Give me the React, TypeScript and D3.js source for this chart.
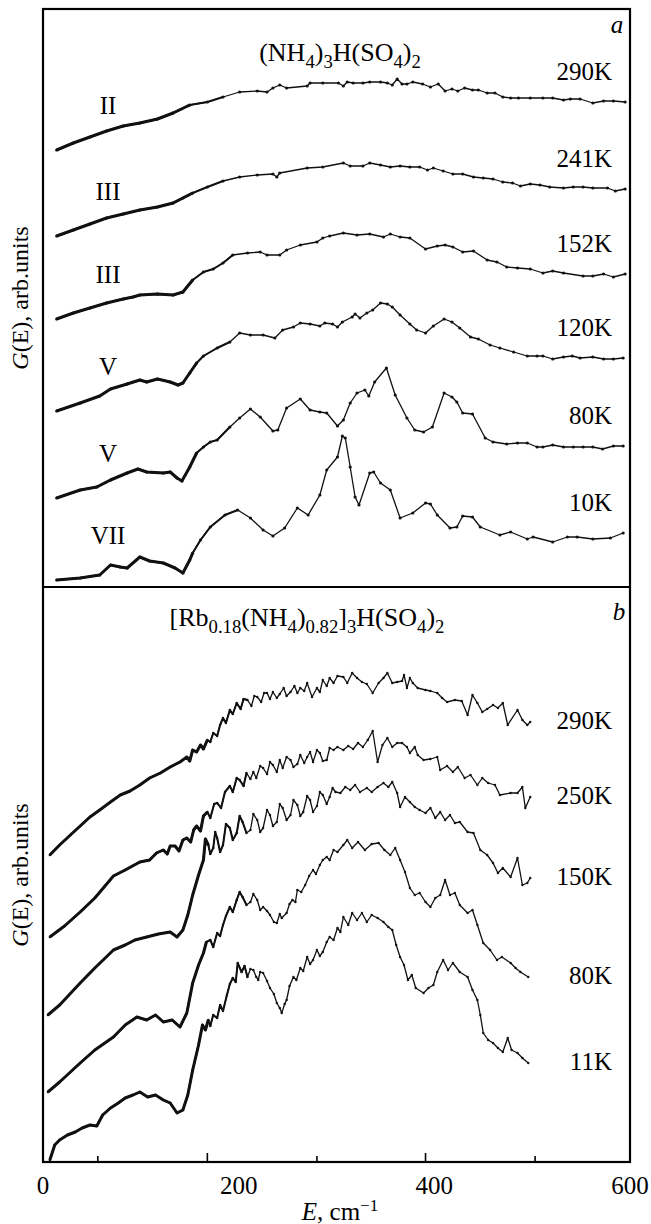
import * as d3 from "d3";

type Pt = [number, number];

// panel a: (NH4)3H(SO4)2, G(E) in arb. units (curves already offset)
const a290K: Pt[] = [
  [14, 43.7], [31, 44.4], [48, 45.0], [65, 45.6], [82, 46.1], [99, 46.4], [117, 46.8], [133, 47.4],
  [150, 48.2], [168, 48.5], [184, 49.0], [201, 49.5], [219, 49.6], [229, 49.5], [235, 49.9], [242, 50.2],
  [249, 49.9], [270, 50.1], [273, 50.4], [286, 50.4], [302, 50.4], [307, 50.1], [311, 50.5], [317, 50.4],
  [327, 50.4], [334, 50.5], [345, 50.5], [352, 50.4], [357, 50.2], [362, 50.8], [367, 50.3], [372, 50.3],
  [378, 50.5], [388, 50.3], [396, 50.0], [404, 50.3], [411, 49.6], [418, 49.8], [424, 49.6], [431, 49.9],
  [439, 49.7], [445, 49.7], [454, 49.4], [462, 49.4], [470, 49.0], [478, 48.9], [486, 48.9], [498, 48.9],
  [511, 48.9], [521, 48.9], [532, 48.7], [539, 48.8], [549, 48.8], [562, 48.4], [573, 48.6], [583, 48.6],
  [595, 48.5],
];
const a241K: Pt[] = [
  [14, 35.1], [31, 35.7], [48, 36.3], [65, 36.9], [82, 37.3], [99, 37.7], [117, 38.0], [133, 38.4],
  [143, 38.9], [153, 39.4], [168, 40.0], [184, 40.6], [201, 41.0], [219, 41.2], [235, 41.3], [239, 41.0],
  [242, 41.4], [270, 41.9], [286, 42.0], [307, 42.4], [314, 42.1], [327, 42.1], [334, 42.4], [345, 42.2],
  [355, 42.0], [365, 42.1], [375, 42.0], [385, 42.0], [393, 41.7], [399, 41.9], [409, 41.6], [419, 41.3],
  [429, 41.3], [440, 41.0], [450, 40.9], [460, 40.8], [470, 40.5], [480, 40.4], [488, 40.1], [498, 40.3],
  [508, 40.2], [518, 40.0], [532, 39.9], [542, 40.0], [552, 40.0], [562, 39.9], [577, 39.9], [585, 39.6],
  [595, 39.8],
];
const a152K: Pt[] = [
  [14, 26.8], [31, 27.4], [48, 27.9], [65, 28.4], [82, 28.8], [92, 29.0], [99, 29.2], [117, 29.3],
  [133, 29.2], [143, 29.5], [153, 30.7], [164, 31.5], [174, 31.8], [184, 32.4], [194, 33.2], [209, 33.4],
  [222, 33.5], [229, 33.2], [242, 33.2], [249, 33.7], [263, 34.2], [280, 34.5], [286, 34.9], [293, 35.1],
  [307, 35.4], [321, 35.2], [334, 35.3], [348, 35.0], [355, 35.3], [365, 35.0], [375, 34.9], [391, 33.8],
  [403, 34.1], [411, 34.2], [419, 34.0], [429, 33.5], [440, 33.6], [454, 32.7], [464, 32.5], [474, 32.0],
  [485, 31.9], [498, 31.8], [511, 31.4], [521, 31.6], [532, 31.4], [552, 31.1], [562, 31.1], [573, 31.3],
  [583, 31.0], [595, 31.3],
];
const a120K: Pt[] = [
  [14, 17.6], [38, 18.4], [58, 19.1], [69, 19.8], [86, 20.3], [99, 20.7], [106, 20.5], [117, 20.8],
  [130, 20.5], [138, 20.2], [143, 20.4], [150, 21.4], [157, 22.4], [164, 23.1], [178, 23.9], [191, 24.5],
  [201, 25.4], [212, 25.2], [225, 25.2], [237, 24.9], [245, 25.7], [256, 26.0], [263, 26.4], [273, 26.3],
  [283, 26.1], [288, 26.4], [296, 26.3], [301, 26.0], [306, 26.5], [316, 27.0], [319, 27.3], [324, 26.9],
  [331, 27.4], [337, 27.7], [345, 28.4], [352, 28.3], [357, 28.0], [365, 27.2], [375, 26.3], [382, 25.7],
  [391, 25.4], [399, 26.1], [410, 26.8], [418, 26.5], [426, 25.9], [437, 25.0], [445, 24.8], [457, 24.2],
  [467, 23.9], [481, 23.5], [495, 23.1], [505, 23.1], [511, 23.1], [521, 22.8], [532, 23.0], [541, 23.1],
  [549, 22.9], [562, 23.0], [573, 22.8], [583, 22.8], [593, 22.9],
];
const a80K: Pt[] = [
  [14, 8.9], [38, 9.7], [55, 10.0], [69, 10.7], [86, 11.4], [97, 11.8], [106, 11.5], [123, 11.4],
  [130, 11.5], [137, 10.9], [142, 10.6], [150, 12.0], [157, 13.4], [164, 14.0], [171, 14.5], [178, 14.7],
  [191, 16.0], [201, 16.9], [212, 17.8], [222, 17.0], [235, 15.6], [240, 15.7], [249, 17.9], [263, 18.8],
  [273, 17.7], [283, 17.5], [290, 17.4], [301, 16.1], [307, 16.7], [314, 18.4], [321, 19.4], [329, 19.7],
  [333, 19.1], [339, 20.5], [351, 21.9], [360, 19.2], [372, 16.9], [380, 15.7], [389, 15.5], [398, 16.0],
  [410, 19.4], [418, 19.0], [423, 18.5], [429, 17.4], [439, 17.3], [452, 14.9], [460, 14.5], [474, 14.3],
  [485, 14.4], [495, 14.4], [505, 14.0], [511, 14.0], [521, 14.2], [532, 14.0], [542, 14.0], [552, 14.0],
  [562, 14.0], [572, 13.8], [583, 14.1], [593, 14.1],
];
const a10K: Pt[] = [
  [14, 0.7], [38, 0.9], [58, 1.2], [69, 2.2], [79, 2.0], [86, 1.9], [99, 3.0], [109, 2.6],
  [123, 2.4], [135, 1.9], [143, 1.4], [150, 2.7], [153, 3.4], [161, 4.7], [171, 6.0], [186, 7.2],
  [199, 7.7], [212, 6.9], [225, 5.7], [235, 5.1], [247, 5.9], [260, 7.9], [271, 7.2], [283, 9.2],
  [290, 11.7], [301, 13.0], [306, 15.1], [309, 14.9], [314, 12.0], [319, 9.0], [323, 8.2], [334, 11.4],
  [338, 11.5], [345, 10.4], [355, 9.7], [365, 6.9], [378, 7.4], [391, 8.4], [396, 8.3], [403, 7.2],
  [416, 5.9], [423, 6.0], [429, 7.1], [439, 7.0], [447, 6.0], [467, 5.2], [478, 5.5], [495, 4.8],
  [501, 5.0], [521, 4.5], [536, 5.0], [546, 5.0], [562, 4.8], [580, 4.9], [593, 5.4],
];

// panel b: [Rb0.18(NH4)0.82]3H(SO4)2
const b290K: Pt[] = [
  [7, 30.7], [17, 31.7], [28, 32.7], [38, 33.6], [48, 34.5], [58, 35.2], [69, 36.0], [79, 36.7],
  [89, 37.1], [99, 37.7], [109, 38.4], [120, 38.9], [130, 39.5], [140, 40.0], [147, 40.5], [150, 40.1],
  [153, 41.2], [157, 41.0], [161, 41.7], [164, 41.3], [168, 42.2], [171, 42.0], [174, 42.9], [178, 42.6],
  [181, 43.7], [184, 44.4], [187, 43.9], [191, 45.2], [194, 44.8], [198, 45.9], [202, 45.3], [205, 46.3],
  [209, 46.2], [213, 45.6], [216, 46.6], [219, 46.5], [223, 46.0], [226, 46.9], [229, 46.9], [232, 46.3],
  [235, 47.0], [239, 46.4], [242, 46.8], [246, 47.4], [249, 46.6], [253, 47.0], [257, 47.6], [260, 46.9],
  [263, 47.4], [267, 47.1], [270, 47.9], [275, 46.5], [280, 47.4], [283, 47.0], [286, 48.2], [290, 47.6],
  [293, 48.4], [297, 47.9], [301, 48.6], [307, 48.5], [311, 47.9], [316, 48.9], [321, 48.4], [326, 48.0],
  [331, 47.8], [337, 46.9], [343, 47.9], [348, 48.4], [352, 48.9], [357, 47.9], [362, 48.0], [367, 48.1],
  [369, 48.7], [372, 47.4], [375, 48.4], [378, 47.9], [383, 47.4], [391, 47.2], [396, 47.1], [403, 46.9],
  [408, 46.4], [413, 46.0], [421, 46.2], [428, 46.1], [434, 44.7], [439, 46.7], [444, 45.9], [449, 45.0],
  [454, 45.3], [460, 45.7], [465, 45.4], [470, 45.9], [475, 43.7], [485, 45.2], [490, 44.2], [495, 43.7],
  [498, 44.0],
];
const b250K: Pt[] = [
  [7, 22.5], [22, 23.6], [38, 25.0], [53, 26.4], [72, 28.6], [84, 29.2], [99, 30.0], [109, 30.2],
  [116, 30.9], [123, 31.2], [127, 30.8], [130, 31.6], [135, 31.6], [139, 31.1], [143, 32.2], [147, 32.4],
  [151, 32.0], [154, 33.2], [157, 33.6], [161, 33.1], [164, 34.6], [168, 35.0], [171, 34.4], [175, 35.8],
  [178, 35.9], [182, 35.4], [186, 37.0], [191, 37.6], [194, 37.0], [198, 38.4], [201, 38.2], [205, 37.6],
  [208, 38.9], [212, 38.3], [215, 39.0], [218, 38.4], [222, 39.6], [225, 39.4], [229, 38.8], [232, 40.0],
  [235, 39.7], [239, 39.0], [242, 40.2], [245, 39.4], [249, 40.5], [253, 40.2], [256, 39.5], [260, 39.8],
  [263, 40.7], [267, 39.9], [270, 40.5], [273, 41.0], [276, 40.0], [280, 41.2], [283, 40.9], [286, 40.1],
  [290, 40.2], [293, 41.4], [297, 41.2], [301, 41.5], [307, 41.2], [312, 41.6], [317, 41.3], [322, 41.9],
  [327, 41.5], [332, 42.2], [337, 43.1], [342, 40.0], [347, 41.7], [352, 42.4], [357, 41.5], [362, 41.9],
  [367, 41.9], [372, 41.5], [375, 40.9], [380, 41.5], [383, 40.7], [389, 40.2], [396, 40.3], [403, 40.5],
  [406, 39.2], [413, 39.6], [419, 39.0], [424, 39.5], [431, 38.4], [437, 38.7], [444, 37.7], [449, 38.4],
  [455, 37.9], [462, 37.7], [467, 36.7], [478, 36.9], [485, 36.9], [490, 37.5], [493, 35.4], [498, 36.5],
];
const b150K: Pt[] = [
  [5, 14.7], [17, 15.7], [38, 17.9], [53, 19.4], [72, 21.2], [84, 21.7], [94, 22.2], [106, 22.5],
  [118, 22.8], [130, 23.0], [137, 22.5], [143, 23.2], [148, 24.7], [153, 26.7], [159, 28.7], [164, 30.2],
  [166, 32.3], [169, 31.7], [171, 30.8], [174, 31.4], [176, 33.0], [178, 32.4], [181, 31.0], [184, 31.7],
  [187, 33.8], [191, 33.4], [194, 32.2], [198, 32.9], [201, 34.6], [204, 34.0], [208, 32.9], [212, 33.2],
  [215, 34.8], [219, 34.2], [222, 33.0], [225, 33.4], [229, 35.2], [232, 34.7], [235, 33.6], [239, 34.0],
  [242, 35.8], [245, 35.4], [249, 34.2], [253, 34.7], [256, 36.2], [260, 35.7], [263, 34.6], [266, 35.0],
  [270, 36.6], [273, 36.2], [276, 35.0], [280, 35.6], [283, 37.0], [286, 36.7], [290, 35.8], [293, 36.5],
  [296, 37.4], [299, 37.0], [304, 36.9], [309, 37.5], [314, 37.2], [319, 37.7], [324, 37.0], [331, 37.4],
  [336, 37.0], [342, 37.5], [348, 37.9], [353, 37.5], [357, 38.0], [362, 36.9], [365, 35.5], [370, 36.5],
  [375, 36.0], [380, 35.5], [385, 35.2], [391, 34.9], [396, 35.4], [401, 34.4], [406, 35.0], [411, 34.2],
  [416, 34.7], [421, 33.9], [426, 34.0], [434, 33.0], [440, 32.9], [447, 31.2], [454, 30.7], [460, 29.9],
  [465, 28.9], [470, 29.4], [478, 28.5], [485, 30.4], [490, 27.7], [495, 27.9], [498, 28.4],
];
const b80K: Pt[] = [
  [5, 7.0], [17, 8.0], [38, 9.9], [53, 11.2], [72, 12.5], [84, 13.7], [96, 14.5], [106, 14.2],
  [115, 14.7], [123, 14.0], [132, 14.2], [140, 13.5], [147, 14.9], [153, 17.9], [159, 19.7], [164, 20.9],
  [167, 22.0], [171, 22.2], [174, 21.5], [178, 22.9], [181, 22.6], [184, 23.7], [187, 24.6], [191, 25.5],
  [194, 25.0], [198, 26.2], [201, 27.0], [204, 26.5], [208, 25.7], [212, 26.0], [215, 26.8], [219, 26.2],
  [222, 25.2], [225, 25.5], [229, 25.1], [232, 24.7], [236, 24.0], [239, 23.9], [242, 24.8], [244, 24.4],
  [249, 24.9], [252, 25.8], [255, 26.2], [258, 26.0], [260, 27.2], [264, 27.0], [268, 27.7], [272, 28.6],
  [276, 29.2], [279, 28.8], [283, 29.7], [286, 30.2], [290, 30.5], [293, 30.2], [297, 31.2], [301, 31.0],
  [307, 31.7], [311, 32.2], [316, 31.4], [322, 32.0], [329, 31.2], [336, 31.8], [343, 31.9], [349, 31.2],
  [355, 30.7], [360, 31.4], [365, 30.2], [370, 29.0], [375, 27.4], [380, 26.7], [385, 26.9], [391, 26.0],
  [396, 25.5], [401, 26.4], [406, 26.7], [411, 28.2], [416, 26.7], [421, 26.9], [426, 25.7], [434, 24.9],
  [439, 25.2], [444, 23.7], [450, 21.9], [457, 21.2], [464, 20.2], [469, 20.5], [478, 19.9], [483, 19.4],
  [488, 19.0], [496, 18.5],
];
const b11K: Pt[] = [
  [7, 0.2], [12, 1.7], [17, 2.2], [25, 2.7], [33, 3.0], [40, 3.4], [48, 3.7], [55, 3.6],
  [61, 4.7], [69, 5.4], [77, 5.9], [84, 6.4], [92, 6.7], [99, 7.0], [107, 6.5], [115, 6.7],
  [123, 6.2], [130, 5.9], [137, 4.9], [143, 5.2], [148, 6.7], [153, 9.2], [159, 11.7], [163, 13.7],
  [166, 13.2], [169, 14.2], [171, 13.6], [174, 14.7], [178, 14.4], [181, 15.7], [184, 15.1], [188, 16.7],
  [191, 17.8], [194, 18.4], [197, 18.0], [199, 19.9], [203, 19.0], [206, 19.6], [209, 18.5], [212, 19.3],
  [215, 19.2], [218, 18.5], [220, 18.2], [222, 19.0], [225, 18.9], [229, 18.1], [232, 17.4], [236, 16.8],
  [239, 15.9], [242, 15.4], [244, 14.9], [247, 15.8], [249, 16.2], [252, 17.6], [256, 18.5], [259, 18.2],
  [263, 19.4], [266, 19.1], [270, 20.5], [273, 19.8], [276, 20.2], [280, 21.2], [283, 20.6], [286, 21.0],
  [290, 22.0], [293, 22.5], [297, 22.2], [301, 23.4], [304, 23.0], [307, 24.5], [312, 23.7], [316, 24.9],
  [321, 24.2], [326, 24.9], [331, 24.0], [336, 24.7], [342, 24.4], [348, 24.0], [353, 23.5], [357, 23.2],
  [361, 21.7], [365, 20.5], [369, 19.7], [373, 18.2], [377, 18.7], [381, 17.4], [389, 16.9], [394, 17.4],
  [399, 17.7], [403, 19.0], [409, 20.2], [414, 19.2], [419, 19.9], [426, 19.0], [434, 18.5], [439, 17.2],
  [444, 16.2], [447, 14.7], [450, 12.9], [455, 12.2], [460, 11.9], [465, 11.4], [470, 11.0], [475, 12.4],
  [479, 11.2], [485, 10.9], [490, 10.4], [496, 9.9],
];

const curvesA = [a290K, a241K, a152K, a120K, a80K, a10K];
const tempsA = ["290K", "241K", "152K", "120K", "80K", "10K"];
const phasesA = ["II", "III", "III", "V", "V", "VII"];
const curvesB = [b290K, b250K, b150K, b80K, b11K];
const tempsB = ["290K", "250K", "150K", "80K", "11K"];

const xTickValues = [56, 168, 280, 391, 503];
const xTickMajor = [false, true, false, true, false];
const xLabelValues = [0, 200, 400, 600];

const W = 651;
const H = 1224;
const left = 43;
const right = 630;
const topA = 9;
const mid = 587;
const bottom = 1162;
const font = "'Liberation Serif', 'Times New Roman', serif";

const x = d3.scaleLinear().domain([0, 600]).range([left, right]);
const yA = d3.scaleLinear().domain([0, 57.8]).range([mid, topA]);
const yB = d3.scaleLinear().domain([0, 57.5]).range([bottom, mid]);

type Part = { t: string; s?: "sub" | "sup" };

const Formula = ({ parts, x0, y0, size }: { parts: Part[]; x0: number; y0: number; size: number }) => {
  let shift = 0;
  const spans = parts.map((p, i) => {
    const target = p.s === "sub" ? size * 0.28 : p.s === "sup" ? -size * 0.38 : 0;
    const dy = target - shift;
    shift = target;
    return (
      <tspan key={i} dy={dy} fontSize={p.s ? size * 0.72 : size}>
        {p.t}
      </tspan>
    );
  });
  return (
    <text x={x0} y={y0} textAnchor="middle" fontFamily={font} fontSize={size}>
      {spans}
    </text>
  );
};

const titleA: Part[] = [
  { t: "(NH" }, { t: "4", s: "sub" }, { t: ")" }, { t: "3", s: "sub" },
  { t: "H(SO" }, { t: "4", s: "sub" }, { t: ")" }, { t: "2", s: "sub" },
];
const titleB: Part[] = [
  { t: "[Rb" }, { t: "0.18", s: "sub" }, { t: "(NH" }, { t: "4", s: "sub" }, { t: ")" },
  { t: "0.82", s: "sub" }, { t: "]" }, { t: "3", s: "sub" }, { t: "H(SO" }, { t: "4", s: "sub" },
  { t: ")" }, { t: "2", s: "sub" },
];

const Curve = ({ data, y, thickTo, r }: { data: Pt[]; y: d3.ScaleLinear<number, number>; thickTo: number; r: number }) => {
  const line = d3.line<Pt>().x((d) => x(d[0])).y((d) => y(d[1]));
  return (
    <g>
      <path d={line(data) ?? ""} fill="none" stroke="#111" strokeWidth={1.3} strokeLinejoin="round" />
      <path
        d={line(data.filter((d) => d[0] <= thickTo)) ?? ""}
        fill="none"
        stroke="#111"
        strokeWidth={2.0}
        strokeLinejoin="round"
      />
      <path
        d={line(data.filter((d) => d[0] <= thickTo - 40)) ?? ""}
        fill="none"
        stroke="#111"
        strokeWidth={3.0}
        strokeLinejoin="round"
      />
      {data.map((d, i) => (
        <circle key={i} cx={x(d[0])} cy={y(d[1])} r={r} fill="#111" />
      ))}
    </g>
  );
};

const YLabel = ({ cy }: { cy: number }) => (
  <text
    transform={`translate(28,${cy}) rotate(-90)`}
    textAnchor="middle"
    fontFamily={font}
    fontSize={24}
  >
    <tspan fontStyle="italic">G</tspan>
    <tspan>(E), arb.units</tspan>
  </text>
);

export default function App() {
  return (
    <svg
      width={W}
      height={H}
      style={{ position: "absolute", left: 0, top: 0, background: "#fff" }}
    >
      <rect x={0} y={0} width={W} height={H} fill="#fff" />
      {/* frames */}
      <rect x={left} y={topA} width={right - left} height={bottom - topA} fill="none" stroke="#000" strokeWidth={2.2} />
      <line x1={left} x2={right} y1={mid} y2={mid} stroke="#000" strokeWidth={2.2} />

      {/* bottom ticks */}
      {xTickValues.map((v, i) => (
        <line key={v} x1={x(v)} x2={x(v)} y1={bottom} y2={bottom - (xTickMajor[i] ? 9 : 6)} stroke="#000" strokeWidth={1.6} />
      ))}
      {xLabelValues.map((v) => (
        <text key={v} x={x(v)} y={1194} textAnchor="middle" fontFamily={font} fontSize={25}>
          {v}
        </text>
      ))}
      <text x={340} y={1220} textAnchor="middle" fontFamily={font} fontSize={25}>
        <tspan fontStyle="italic">E</tspan>
        <tspan>, cm</tspan>
        <tspan dy={-9} fontSize={17}>−1</tspan>
      </text>

      <YLabel cy={298} />
      <YLabel cy={875} />

      {/* panel a */}
      <text x={617} y={33} textAnchor="middle" fontFamily={font} fontSize={25} fontStyle="italic">a</text>
      <Formula parts={titleA} x0={340} y0={61} size={26} />
      {curvesA.map((c, i) => (
        <g key={tempsA[i]}>
          <Curve data={c} y={yA} thickTo={200} r={1.6} />
          <text x={612} y={yA(c[c.length - 1][1]) - 22} textAnchor="end" fontFamily={font} fontSize={25}>
            {tempsA[i]}
          </text>
          <text x={108} y={yA(c[0][1]) - 36} textAnchor="middle" fontFamily={font} fontSize={25}>
            {phasesA[i]}
          </text>
        </g>
      ))}

      {/* panel b */}
      <text x={619} y={620} textAnchor="middle" fontFamily={font} fontSize={25} fontStyle="italic">b</text>
      <Formula parts={titleB} x0={307} y0={626} size={26} />
      {curvesB.map((c, i) => (
        <g key={tempsB[i]}>
          <Curve data={c} y={yB} thickTo={210} r={1.2} />
          <text x={612} y={yB(c[c.length - 1][1]) + 7} textAnchor="end" fontFamily={font} fontSize={25}>
            {tempsB[i]}
          </text>
        </g>
      ))}
    </svg>
  );
}
